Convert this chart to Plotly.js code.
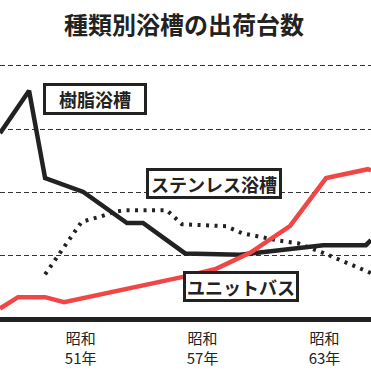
<!DOCTYPE html>
<html>
<head>
<meta charset="utf-8">
<script src="https://cdn.plot.ly/plotly-3.0.1.min.js"></script>
<style>html,body{margin:0;padding:0;background:#fff;}#chart{width:371px;height:371px;}</style>
</head>
<body>
<div id="chart"></div>
<script>
// Years (Showa era) and relative shipment levels (grid units)
const resinYears   = [47.03, 48.46, 49.25, 51.13, 53.28, 54.07, 56.14, 58.84, 62.94, 65.04, 65.29];
const resinValues  = [2.94, 3.61, 2.23, 2.01, 1.52, 1.52, 1.04, 1.02, 1.17, 1.17, 1.25];

const steelYears   = [49.25, 51.05, 51.95, 52.69, 53.18, 55.25, 55.99, 58.16, 58.94, 60.81, 61.70, 62.93, 65.29];
const steelValues  = [0.71, 1.54, 1.62, 1.70, 1.72, 1.72, 1.50, 1.47, 1.36, 1.24, 1.20, 1.05, 0.73];

const unitYears    = [47.03, 47.92, 49.25, 50.18, 56.04, 57.61, 59.34, 61.30, 63.08, 65.14, 65.29];
const unitValues   = [0.17, 0.35, 0.35, 0.27, 0.67, 0.79, 1.05, 1.47, 2.23, 2.37, 2.35];

const tickYears  = [51, 57, 63];
const tickLabels = ['昭和<br>51年', '昭和<br>57年', '昭和<br>63年'];

const seriesNames = ['樹脂浴槽', 'ステンレス浴槽', 'ユニットバス'];
const titleText = '種類別浴槽の出荷台数';

const FONT = '"Noto Sans CJK JP", "Noto Sans", sans-serif';
const INK = '#222222';
const RED = '#f04646';

const traces = [
  {x: steelYears, y: steelValues, mode: 'lines', name: seriesNames[1],
   line: {color: INK, width: 4, dash: '3px,5.5px'}},
  {x: resinYears, y: resinValues, mode: 'lines', name: seriesNames[0],
   line: {color: INK, width: 4.5}},
  {x: unitYears, y: unitValues, mode: 'lines', name: seriesNames[2],
   line: {color: RED, width: 4.5}}
];

function box(text, x, y, w, h) {
  return {text: '<b>' + text + '</b>', x: x, y: y, xref: 'x', yref: 'y', showarrow: false,
    xanchor: 'center', yanchor: 'middle', bgcolor: '#ffffff', bordercolor: INK,
    borderwidth: 3, borderpad: 0, width: w, height: h,
    font: {family: FONT, size: 18, color: INK}};
}

const layout = {
  width: 371, height: 371,
  margin: {l: 0, r: 0, t: 46, b: 47, pad: 0},
  paper_bgcolor: '#ffffff', plot_bgcolor: '#ffffff',
  showlegend: false,
  title: {text: '<b>' + titleText + '</b>', x: 0.496, xanchor: 'center', xref: 'paper',
          y: 1 - 26 / 371, yanchor: 'middle', yref: 'container',
          font: {family: FONT, size: 24, color: INK}},
  xaxis: {range: [47.03, 65.29], showgrid: false, zeroline: false, showline: false,
          tickmode: 'array', tickvals: tickYears, ticktext: tickLabels, ticks: '',
          ticklabelstandoff: 4,
          tickfont: {family: FONT, size: 15, color: INK}, fixedrange: true},
  yaxis: {range: [-0.0742, 4.3155], dtick: 1, tick0: 0, showticklabels: false, ticks: '',
          showgrid: true, gridcolor: '#333333', gridwidth: 1, griddash: '5px,3px',
          zeroline: true, zerolinecolor: INK, zerolinewidth: 4.5, showline: false, fixedrange: true},
  annotations: [
    box(seriesNames[0], 51.71, 3.48, 98, 26),
    box(seriesNames[1], 57.55, 2.144, 130, 25),
    box(seriesNames[2], 58.89, 0.518, 110, 25)
  ]
};

Plotly.newPlot('chart', traces, layout, {staticPlot: true, displayModeBar: false});
</script>
</body>
</html>
